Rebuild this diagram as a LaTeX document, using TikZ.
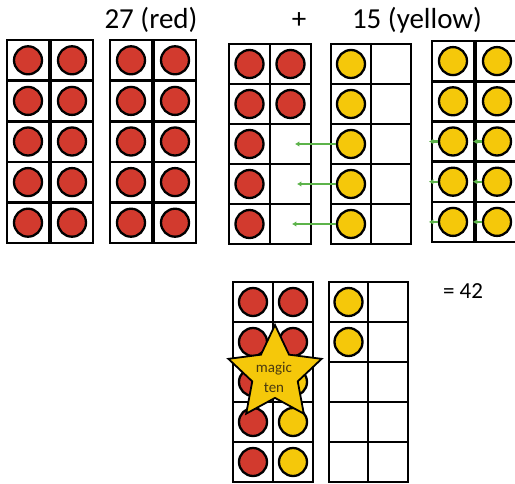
\documentclass[tikz,border=0pt]{standalone}
\usepackage{fontspec}
\setmainfont{Carlito}
\usetikzlibrary{shapes.geometric,arrows.meta}
\definecolor{dotred}{HTML}{D23A2E}
\definecolor{dotyel}{HTML}{F5C80A}
\definecolor{arrgreen}{HTML}{5CB34A}
\definecolor{starink}{HTML}{4A3A10}
\tikzset{
  cell/.style={draw=black, line width=2.6pt, fill=white, line join=miter},
  reddot/.style={circle, draw=black, line width=2.3pt, fill=dotred, minimum size=28pt, inner sep=0pt},
  yeldot/.style={circle, draw=black, line width=2.3pt, fill=dotyel, minimum size=28pt, inner sep=0pt},
  garrow/.style={draw=arrgreen, line width=2.2pt, -{Latex[length=4.5pt,width=5.5pt]}},
  lab/.style={font=\fontsize{29}{29}\selectfont, anchor=base, inner sep=0pt},
  startxt/.style={font=\fontsize{15}{15}\selectfont, text=starink, inner sep=0pt}
}
\newcommand\tfcol[4]{%
  \pgfmathsetmacro\tfh{(#4-#3)/5}%
  \foreach \r in {0,...,4}{\draw[cell] (#1,{#3+\r*\tfh}) rectangle (#2,{#3+(\r+1)*\tfh});}}
\newcommand\tfdots[6]{%
  \pgfmathsetmacro\tfh{(#4-#3)/5}%
  \foreach \r in {#5}{\node[#6] (d-#1-\r) at ({(#1+#2)/2},{#3+(\r-0.5)*\tfh}) {};}}
\begin{document}
\begin{tikzpicture}[x=1pt,y=-1pt]
\useasboundingbox (0,0) rectangle (515,483);
\clip (0,0) rectangle (515,483);
\fill[white] (0,0) rectangle (515,483);
% labels
\node[lab] (t27) at (151,28) {27 (red)};
\node[lab] (tplus) at (299,28) {+};
\node[lab] (t15) at (417,28) {15 (yellow)};
\node[lab, font=\fontsize{23}{23}\selectfont] (t42) at (463,298) {= 42};
% frame 1
\tfcol{7}{49}{40}{243}\tfcol{51}{93}{40}{243}
\tfdots{7}{49}{40}{243}{1,...,5}{reddot}\tfdots{51}{93}{40}{243}{1,...,5}{reddot}
% frame 2
\tfcol{110}{152}{40}{243}\tfcol{154}{196}{40}{243}
\tfdots{110}{152}{40}{243}{1,...,5}{reddot}\tfdots{154}{196}{40}{243}{1,...,5}{reddot}
% frame 3
\tfcol{229}{270}{44}{244}\tfcol{270}{311}{44}{244}
\tfdots{229}{270}{44}{244}{1,...,5}{reddot}\tfdots{270}{311}{44}{244}{1,2}{reddot}
% frame 4
\tfcol{331}{371}{44}{244}\tfcol{371}{411}{44}{244}
\tfdots{331}{371}{44}{244}{1,...,5}{yeldot}
% frame 5
\tfcol{432}{474}{41}{242}\tfcol{476}{518}{41}{242}
\tfdots{432}{474}{41}{242}{1,...,5}{yeldot}\tfdots{476}{518}{41}{242}{1,...,5}{yeldot}
% arrows
\draw[garrow] (d-331-3.west) -- ++(-41,0);
\draw[garrow] (d-331-4.west) -- ++(-39,0);
\draw[garrow] (d-331-5.west) -- ++(-44,0);
\foreach \r in {3,4,5}{
  \draw[garrow] (d-432-\r.west) -- ++(-9,0);
  \draw[garrow] (d-476-\r.west) -- ++(-9,0);
}
% frame 6
\tfcol{233}{273}{282}{482}\tfcol{273}{313}{282}{482}
\tfdots{233}{273}{282}{482}{1,...,5}{reddot}
\tfdots{273}{313}{282}{482}{1,2}{reddot}
\tfdots{273}{313}{282}{482}{3,4,5}{yeldot}
% frame 7
\tfcol{329}{368}{282}{482}\tfcol{368}{408}{282}{482}
\tfdots{329}{368}{282}{482}{1,2}{yeldot}
% star
\node[star, star points=5, star point ratio=2.05, minimum size=98pt, draw=black, line width=1.8pt, fill=dotyel, inner sep=0pt] (star) at (275,374) {};
\node[startxt] (magic) at (274,369) {magic};
\node[startxt] (ten) at (274,388) {ten};
\end{tikzpicture}
\end{document}
